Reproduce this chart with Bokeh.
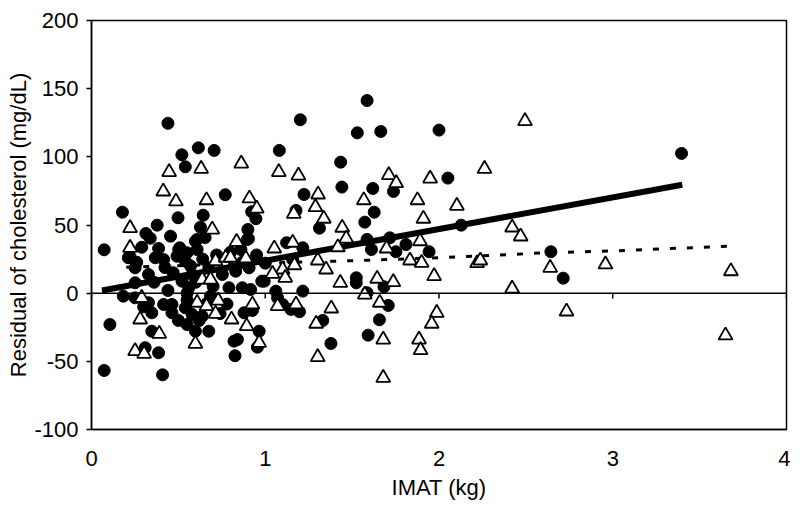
from bokeh.plotting import figure
from bokeh.models import Span, Range1d, FixedTicker, PrintfTickFormatter
from bokeh.embed import file_html
from bokeh.resources import INLINE

# ---- data ----
x_ticks = [0, 1, 2, 3, 4]
y_ticks = [-100, -50, 0, 50, 100, 150, 200]

circle_x = [0.44, 0.52, 0.615, 0.706, 0.54, 0.77, 0.178, 0.498, 0.643, 0.378, 0.627, 0.313, 0.455,
            0.922, 0.946, 0.90, 1.586, 1.202, 1.53, 1.665, 2.0, 1.081, 1.434, 1.441, 1.619, 1.223,
            1.738, 1.177, 1.627, 1.312, 1.573, 2.051, 2.128, 2.644, 2.715, 3.396,
            0.073, 0.289, 0.386, 0.897, 0.212, 0.367, 0.502, 0.598, 0.654, 0.251, 0.328, 0.423,
            0.54, 0.579, 0.675, 0.753, 0.83, 0.907, 0.98, 0.251, 0.521, 0.56, 0.791, 0.868, 0.916,
            0.183, 0.251, 0.328, 0.347, 0.415, 0.463, 0.463, 0.54, 0.579, 0.637, 0.685, 0.675,
            0.598, 0.55, 0.347, 0.309, 0.386, 0.106, 0.073, 0.409, 0.878, 0.926, 0.965, 0.82,
            0.84, 0.826, 0.955,
            1.123, 1.216, 1.586, 1.611, 1.752, 1.81, 1.943, 1.717, 1.524, 1.524, 1.586, 1.683,
            1.708, 1.657, 1.592, 1.378, 1.331, 1.216, 1.061, 1.071, 1.1, 1.148, 1.197, 0.994, 1.158,
            0.338, 0.508, 0.222, 0.26, 0.415, 0.492, 0.55, 0.608, 0.608, 0.903, 0.868,
            0.55, 0.55, 0.57, 0.6, 0.47, 0.44, 0.66, 0.7, 0.72, 0.64, 0.36, 0.3, 0.5, 0.62, 0.78,
            0.74, 0.86, 0.95, 1.0, 0.8]
circle_y = [124.6, 101.5, 106.6, 104.7, 92.7, 72.2, 59.4, 55.3, 57.2, 49.9, 48.4, 43.8, 41.8,
            59.7, 54.6, 46.7, 141.3, 127.2, 117.6, 118.6, 119.6, 104.7, 96.1, 77.8, 76.8, 72.4,
            74.6, 60.7, 59.4, 47.7, 52.1, 84.4, 49.9, 30.4, 11.0, 102.5,
            31.8, 33.7, 32.8, 39.4, 26.0, 26.0, 32.0, 38.1, 40.8, 18.6, 13.7, 18.8,
            23.5, 13.7, 18.6, 13.7, 16.1, 18.6, 8.8, 7.6, 8.8, 4.0, 4.0, 4.0, 2.7,
            -2.2, -3.4, -7.0, -14.4, -8.3, -8.3, -14.4, -10.7, -15.6, -16.9, -2.2, -27.9,
            -27.9, -23.0, -27.9, -40.0, -43.7, -23.0, -56.7, -59.9, -14.4, -12.7, -27.9, -35.2,
            -34.0, -45.9, -39.6,
            37.0, 33.3, 39.4, 32.0, 30.4, 35.7, 30.4, 40.6, 11.3, 7.6, 0.3, 4.7,
            -9.0, -19.5, -30.8, -36.9, -20.0, 1.5, 1.5, -3.4, -8.3, -11.9, -13.6, 8.8, 24.7,
            40.3, 33.3, 26.7, 22.7, 24.7, 27.1, 29.6, 32.0, 39.4, 39.9, 22.7,
            0.0, -5.0, 20.0, 8.0, 15.0, 2.0, -8.0, 5.0, 28.0, 25.0, 8.0, -10.0, -20.0, -20.0, -8.0,
            -15.0, 32.0, 28.0, 22.0, 30.0]

tri_x = [0.862, 0.447, 0.631, 0.413, 0.486, 0.662, 0.909, 0.951, 0.222, 0.695, 1.078, 1.191,
         1.711, 1.754, 1.949, 1.304, 1.567, 1.876, 1.289, 1.337, 1.164, 1.91, 1.443, 2.495,
         2.262, 2.103, 2.421, 2.47, 2.219, 2.238, 2.64, 2.958, 2.421, 2.734, 3.68, 3.649,
         0.222, 0.835, 0.714, 0.772, 0.80, 0.888, 0.637, 0.685, 0.289, 0.608, 0.729, 0.662,
         0.714, 0.28, 0.806, 0.893, 0.926, 0.39, 0.598, 0.251, 0.303, 0.965,
         1.052, 1.158, 1.466, 1.698, 1.891, 1.418, 1.302, 1.35, 1.168, 1.1, 1.042, 1.115,
         1.833, 1.9, 1.972, 1.432, 1.644, 1.737, 1.573, 1.659, 1.071, 1.177, 1.38, 1.293,
         1.987, 1.958, 1.885, 1.894, 1.679, 1.302, 1.679]
tri_y = [95.1, 88.8, 91.2, 74.6, 67.3, 68.2, 69.5, 62.1, 47.7, 46.7, 88.8, 86.3,
         86.6, 80.7, 84.1, 72.4, 68.2, 68.2, 63.1, 54.6, 58.2, 54.6, 48.0, 126.2,
         91.2, 64.1, 48.2, 41.6, 22.0, 24.0, 18.6, 21.1, 3.4, -13.4, 16.1, -31.0,
         33.3, 37.7, 23.5, 26.0, 26.0, 25.5, 10.0, 10.0, -3.4, -7.0, -5.4, -9.5,
         -15.1, -19.3, -19.3, -24.2, -8.3, -29.8, -37.1, -42.5, -44.5, -36.4,
         32.8, 37.0, 40.1, 32.8, 38.1, 33.7, 24.0, 17.4, 20.5, 17.4, 14.2, 11.3,
         24.0, 22.3, 12.5, 7.6, 10.6, 8.1, -1.0, -7.0, -9.5, -8.3, -11.2, -22.4,
         -14.4, -22.4, -34.0, -41.8, -34.0, -46.9, -62.1]

fit_x = [0.06, 3.40]
fit_y = [2.0, 79.5]

fit2_x = [0.2, 1.0, 1.6, 2.0, 2.6, 3.0, 3.68]
fit2_y = [19.0, 22.0, 24.2, 26.0, 29.5, 31.0, 34.5]

FONT = "Liberation Sans"
FS = "22px"

p = figure(width=790, height=505, output_backend="svg", toolbar_location=None,
           x_range=Range1d(0, 4), y_range=Range1d(-100, 200),
           min_border_left=91, min_border_right=4, min_border_top=20, min_border_bottom=76)
p.background_fill_color = "white"
p.border_fill_color = "white"
p.grid.visible = False
p.outline_line_color = "black"
p.outline_line_width = 1.5
p.outline_line_alpha = 1.0

# axes
p.yaxis.ticker = FixedTicker(ticks=y_ticks)
p.xaxis.ticker = FixedTicker(ticks=x_ticks)
p.yaxis.formatter = PrintfTickFormatter(format="%d")
p.xaxis.formatter = PrintfTickFormatter(format="%d")
for ax in (p.xaxis[0], p.yaxis[0]):
    ax.axis_line_color = "black"
    ax.axis_line_width = 1.5
    ax.minor_tick_line_color = None
    ax.major_label_text_font = FONT
    ax.major_label_text_font_size = FS
    ax.major_label_text_color = "black"
    ax.axis_label_text_font = FONT
    ax.axis_label_text_font_size = FS
    ax.axis_label_text_font_style = "normal"
    ax.axis_label_text_color = "black"
p.yaxis.major_tick_out = 5
p.yaxis.major_tick_in = 0
p.yaxis.major_tick_line_width = 1.5
p.yaxis.major_label_standoff = 8
p.yaxis.axis_label = "Residual of cholesterol (mg/dL)"
p.yaxis.axis_label_standoff = 0
p.xaxis.major_tick_line_color = None
p.xaxis.major_tick_out = 0
p.xaxis.major_tick_in = 0
p.xaxis.major_label_standoff = 21
p.xaxis.axis_label = "IMAT (kg)"
p.xaxis.axis_label_standoff = 6

# zero line and its ticks
p.add_layout(Span(location=0, dimension="width", line_color="black", line_width=1.5))
p.segment(x0=x_ticks, y0=[0] * len(x_ticks), x1=x_ticks, y1=[-4] * len(x_ticks),
          line_color="black", line_width=1.5)

# points
p.scatter(circle_x, circle_y, marker="circle", size=12, fill_color="black", line_color="black")
p.line(fit_x, fit_y, line_color="black", line_width=6)
p.line(fit2_x, fit2_y, line_color="black", line_width=3, line_dash="6 11")
p.scatter(tri_x, tri_y, marker="triangle", size=14, fill_color="white", line_color="black",
          line_width=1.8)

open("out.html", "w").write(file_html(p, INLINE))
